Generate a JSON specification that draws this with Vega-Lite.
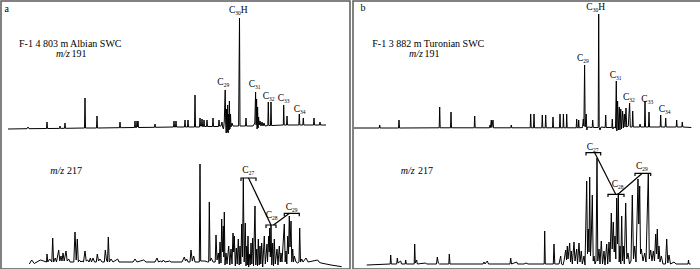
{
  "$schema": "https://vega.github.io/schema/vega-lite/v6.json",
  "padding": 0,
  "spacing": 0,
  "background": "white",
  "config": {"view": {"stroke": "#5a5a5a", "strokeWidth": 1.5}, "font": "Liberation Serif", "text": {"fill": "#000"}},
  "datasets": {
    "a191": [{"t":7,"i":0},{"t":26,"i":0.3},{"t":27,"i":2},{"t":28,"i":0.3},{"t":45.5,"i":0.5},{"t":46,"i":7},{"t":46.5,"i":0.5},{"t":58.5,"i":0.6},{"t":59,"i":3},{"t":59.5,"i":0.6},{"t":63.5,"i":0.7},{"t":64,"i":6},{"t":64.5,"i":0.7},{"t":83.5,"i":1},{"t":84,"i":31},{"t":84.5,"i":1},{"t":95.5,"i":1},{"t":96,"i":13},{"t":96.5,"i":1},{"t":118.5,"i":1.3},{"t":119,"i":7},{"t":119.5,"i":1.3},{"t":133.5,"i":1.5},{"t":134,"i":8},{"t":134.5,"i":1.5},{"t":135.5,"i":1.5},{"t":136,"i":8},{"t":136.5,"i":2},{"t":137,"i":8},{"t":137.5,"i":1.5},{"t":153.5,"i":1.7},{"t":154,"i":5},{"t":154.5,"i":1.7},{"t":172.5,"i":2},{"t":173,"i":8},{"t":173.5,"i":2},{"t":174.5,"i":2},{"t":175,"i":8},{"t":175.5,"i":2},{"t":183.5,"i":2},{"t":184,"i":9},{"t":184.5,"i":2},{"t":186.5,"i":2},{"t":187,"i":9},{"t":187.5,"i":2},{"t":193.5,"i":2},{"t":194,"i":34},{"t":194.5,"i":2},{"t":198.5,"i":2},{"t":199,"i":11},{"t":199.5,"i":3},{"t":200.5,"i":3},{"t":201,"i":10},{"t":201.5,"i":2.5},{"t":202.5,"i":2.5},{"t":203,"i":9},{"t":203.5,"i":2.5},{"t":205.5,"i":2.5},{"t":206,"i":9},{"t":206.5,"i":2.5},{"t":211.5,"i":2.5},{"t":212,"i":11},{"t":212.5,"i":2.5},{"t":217.5,"i":2.5},{"t":218,"i":9},{"t":218.5,"i":3},{"t":220,"i":3},{"t":221,"i":7},{"t":221.6,"i":2},{"t":222.5,"i":0},{"t":223.3,"i":8},{"t":224.2,"i":39},{"t":224.7,"i":6},{"t":225.2,"i":-4},{"t":225.7,"i":20},{"t":226.2,"i":-3},{"t":226.7,"i":24},{"t":227.2,"i":-4},{"t":227.7,"i":15},{"t":228.1,"i":-1},{"t":228.4,"i":28},{"t":228.9,"i":0},{"t":229.5,"i":15},{"t":230,"i":2},{"t":231,"i":6},{"t":232,"i":3},{"t":237.6,"i":3},{"t":238.5,"i":111},{"t":239,"i":3},{"t":244.5,"i":3},{"t":245,"i":11},{"t":245.5,"i":3},{"t":252,"i":3},{"t":253.8,"i":6},{"t":254.6,"i":37},{"t":255.1,"i":4},{"t":255.6,"i":30},{"t":256.1,"i":0},{"t":256.6,"i":22},{"t":257.1,"i":1},{"t":257.6,"i":12},{"t":258.2,"i":4},{"t":259,"i":8},{"t":260,"i":3},{"t":261,"i":7},{"t":262,"i":3},{"t":263,"i":6},{"t":264,"i":3},{"t":266.8,"i":3.5},{"t":267.3,"i":27},{"t":267.8,"i":3.5},{"t":269.5,"i":3.5},{"t":270,"i":27},{"t":270.5,"i":3.5},{"t":282.3,"i":4},{"t":282.7,"i":24},{"t":283.2,"i":4},{"t":285.5,"i":4},{"t":286,"i":13},{"t":286.5,"i":4},{"t":297.8,"i":4},{"t":298.3,"i":15},{"t":298.8,"i":4},{"t":301.8,"i":4},{"t":302.3,"i":11},{"t":302.8,"i":4},{"t":312.5,"i":4},{"t":313,"i":11},{"t":313.5,"i":4},{"t":318.5,"i":4},{"t":319,"i":7},{"t":319.5,"i":4},{"t":325,"i":4}],
    "a217": [{"t":28.3,"i":-2},{"t":30.7,"i":2},{"t":33.3,"i":-1.5},{"t":39.3,"i":2},{"t":42.7,"i":1},{"t":45.5,"i":0},{"t":46,"i":8},{"t":46.8,"i":0},{"t":48.7,"i":3},{"t":50.8,"i":0},{"t":51.7,"i":24},{"t":52.6,"i":0},{"t":54.3,"i":4},{"t":55.5,"i":0},{"t":57.7,"i":12},{"t":58.8,"i":1},{"t":60,"i":6},{"t":61,"i":1},{"t":62,"i":9},{"t":63.2,"i":1},{"t":65,"i":11},{"t":66.2,"i":1},{"t":67.7,"i":3},{"t":69,"i":0},{"t":72.8,"i":0},{"t":74,"i":30},{"t":75.2,"i":2},{"t":76.3,"i":23},{"t":77.3,"i":0},{"t":78.3,"i":2},{"t":80,"i":0},{"t":81,"i":1},{"t":82.5,"i":0},{"t":84,"i":11},{"t":85.2,"i":1},{"t":86.7,"i":2},{"t":88,"i":0},{"t":89.3,"i":4},{"t":90.5,"i":0},{"t":92,"i":4},{"t":93.5,"i":0},{"t":95.3,"i":0},{"t":96.3,"i":8},{"t":97.5,"i":1},{"t":99,"i":3},{"t":101,"i":0},{"t":103.3,"i":0},{"t":104.3,"i":12},{"t":105.5,"i":2},{"t":106.5,"i":0},{"t":107.3,"i":25},{"t":108.3,"i":0},{"t":110,"i":3},{"t":112,"i":0},{"t":116.7,"i":3},{"t":118,"i":0},{"t":132,"i":0},{"t":134,"i":3},{"t":136,"i":0},{"t":142.7,"i":2},{"t":145,"i":0},{"t":154,"i":0},{"t":156,"i":4},{"t":157.5,"i":0},{"t":159.3,"i":1},{"t":161,"i":0},{"t":162.3,"i":2},{"t":164,"i":0},{"t":168.7,"i":1},{"t":170,"i":0},{"t":181,"i":0},{"t":183.3,"i":5},{"t":184.5,"i":1},{"t":185.7,"i":3},{"t":187,"i":0},{"t":189,"i":0},{"t":190,"i":12},{"t":191.3,"i":1},{"t":192.7,"i":6},{"t":194,"i":0},{"t":198.3,"i":0},{"t":199,"i":98},{"t":199.7,"i":1},{"t":204,"i":1},{"t":206.5,"i":0},{"t":207.7,"i":0},{"t":208.3,"i":60},{"t":209.1,"i":1},{"t":210.3,"i":4},{"t":212,"i":0},{"t":214.2,"i":0},{"t":215,"i":27},{"t":216,"i":2},{"t":217.3,"i":9},{"t":218.2,"i":-2},{"t":219,"i":20},{"t":220,"i":-1},{"t":220.7,"i":43},{"t":221.5,"i":10},{"t":222.3,"i":36},{"t":222.8,"i":5},{"t":223.3,"i":50},{"t":224,"i":-3},{"t":225,"i":9},{"t":226,"i":-2},{"t":227.7,"i":16},{"t":228.8,"i":-3},{"t":230,"i":13},{"t":231,"i":-2},{"t":232,"i":29},{"t":232.7,"i":10},{"t":233.3,"i":26},{"t":234.3,"i":-4},{"t":235.3,"i":14},{"t":236.2,"i":-2},{"t":237.3,"i":23},{"t":238.2,"i":-3},{"t":239,"i":16},{"t":239.8,"i":-2},{"t":240.7,"i":38},{"t":241.5,"i":5},{"t":242.3,"i":84},{"t":243.2,"i":0},{"t":244.3,"i":39},{"t":245,"i":-4},{"t":245.7,"i":16},{"t":246.3,"i":-3},{"t":247,"i":26},{"t":247.7,"i":-5},{"t":248.3,"i":8},{"t":249.2,"i":-3},{"t":250,"i":19},{"t":250.8,"i":-2},{"t":251.7,"i":24},{"t":252.5,"i":-4},{"t":254,"i":56},{"t":254.8,"i":-3},{"t":255.7,"i":13},{"t":256.5,"i":-4},{"t":257.3,"i":23},{"t":258.2,"i":-3},{"t":259,"i":16},{"t":259.8,"i":-2},{"t":260.7,"i":19},{"t":261.7,"i":-5},{"t":263.3,"i":26},{"t":264.3,"i":-2},{"t":266,"i":18},{"t":266.5,"i":0},{"t":267.7,"i":26},{"t":268.2,"i":10},{"t":268.7,"i":34},{"t":269.3,"i":5},{"t":270,"i":37},{"t":270.8,"i":-3},{"t":271.7,"i":19},{"t":272.5,"i":-4},{"t":273.3,"i":23},{"t":274.3,"i":-2},{"t":276,"i":13},{"t":277,"i":-3},{"t":278.3,"i":16},{"t":279.3,"i":0},{"t":280,"i":9},{"t":281,"i":0},{"t":283.3,"i":38},{"t":284.2,"i":0},{"t":285,"i":11},{"t":285.8,"i":-2},{"t":286.7,"i":26},{"t":287.5,"i":8},{"t":288.3,"i":46},{"t":289,"i":15},{"t":290,"i":41},{"t":290.8,"i":0},{"t":291.7,"i":13},{"t":292.5,"i":0},{"t":293.3,"i":6},{"t":295,"i":0},{"t":296.7,"i":-1},{"t":298,"i":0},{"t":298.7,"i":34},{"t":299.5,"i":0},{"t":300.7,"i":3},{"t":302,"i":0},{"t":305,"i":4},{"t":307,"i":0},{"t":316.7,"i":2},{"t":318,"i":0},{"t":320,"i":-1},{"t":330,"i":-3},{"t":340.7,"i":-4.7}],
    "b191": [{"t":0,"i":1},{"t":25.2,"i":1},{"t":25.7,"i":4},{"t":26.2,"i":1},{"t":44.5,"i":1},{"t":45,"i":9},{"t":45.5,"i":1},{"t":85.2,"i":1.2},{"t":85.7,"i":22},{"t":86.2,"i":1.2},{"t":96.5,"i":1.2},{"t":97,"i":17},{"t":97.5,"i":1.2},{"t":120.2,"i":1.2},{"t":120.7,"i":13},{"t":121.2,"i":1.2},{"t":135.5,"i":1.2},{"t":136,"i":4},{"t":136.5,"i":1.5},{"t":137.3,"i":9},{"t":137.8,"i":1.5},{"t":139,"i":9},{"t":139.5,"i":1.2},{"t":156.8,"i":1.2},{"t":157.3,"i":4},{"t":157.8,"i":1.2},{"t":176.2,"i":1.2},{"t":176.7,"i":15},{"t":177.2,"i":1.2},{"t":179.5,"i":1.2},{"t":180,"i":15},{"t":180.5,"i":1.2},{"t":187.8,"i":1.2},{"t":188.3,"i":14},{"t":188.8,"i":1.2},{"t":191.2,"i":1.2},{"t":191.7,"i":14},{"t":192.2,"i":1.2},{"t":198.5,"i":1.2},{"t":199,"i":12},{"t":199.5,"i":1.2},{"t":205.5,"i":1.2},{"t":206,"i":15},{"t":206.5,"i":1.2},{"t":209,"i":1.2},{"t":209.4,"i":15},{"t":209.9,"i":1.2},{"t":212.3,"i":1.2},{"t":212.7,"i":15},{"t":213.2,"i":1.2},{"t":222.2,"i":1.2},{"t":222.7,"i":10},{"t":223.2,"i":1.2},{"t":224.3,"i":1.2},{"t":224.7,"i":9},{"t":225.2,"i":1.2},{"t":228.5,"i":1.5},{"t":229.3,"i":10},{"t":229.9,"i":3},{"t":230.6,"i":64},{"t":231.2,"i":2},{"t":232.2,"i":15},{"t":232.8,"i":-1},{"t":233.5,"i":2},{"t":238.2,"i":1.5},{"t":238.7,"i":9},{"t":239.3,"i":1.5},{"t":244.2,"i":1.5},{"t":244.7,"i":115},{"t":245.2,"i":1.5},{"t":246,"i":-1},{"t":247,"i":2},{"t":251.2,"i":1.5},{"t":251.7,"i":14},{"t":252.2,"i":1.5},{"t":257.8,"i":1.5},{"t":258.3,"i":10},{"t":258.8,"i":0},{"t":260,"i":2},{"t":261.5,"i":1},{"t":262.3,"i":48},{"t":262.8,"i":-2},{"t":263.6,"i":28},{"t":264.3,"i":-1},{"t":265.3,"i":22},{"t":265.9,"i":-1},{"t":266.8,"i":20},{"t":267.4,"i":0},{"t":268.6,"i":18},{"t":269.3,"i":1},{"t":270.3,"i":15},{"t":271,"i":2},{"t":272,"i":21},{"t":272.7,"i":2},{"t":274.3,"i":3},{"t":275.6,"i":26},{"t":276.3,"i":2},{"t":278.2,"i":2},{"t":278.7,"i":18},{"t":279.3,"i":2},{"t":285.5,"i":2},{"t":286,"i":5},{"t":286.7,"i":2},{"t":290.5,"i":2},{"t":291,"i":28},{"t":291.5,"i":2},{"t":294.5,"i":2},{"t":295,"i":17},{"t":295.5,"i":2},{"t":306.2,"i":2},{"t":306.7,"i":14},{"t":307.2,"i":2},{"t":311.2,"i":2},{"t":311.7,"i":11},{"t":312.2,"i":2},{"t":322.2,"i":2},{"t":322.7,"i":9},{"t":323.2,"i":2},{"t":327.8,"i":2},{"t":328.3,"i":7},{"t":328.8,"i":2},{"t":337.3,"i":1.5}],
    "b217": [{"t":12.7,"i":-1},{"t":36.2,"i":0},{"t":36.7,"i":9},{"t":37.3,"i":0},{"t":42.7,"i":0},{"t":43.3,"i":6},{"t":44,"i":1},{"t":46.7,"i":3},{"t":47.5,"i":0},{"t":51.2,"i":0},{"t":51.7,"i":4},{"t":52.3,"i":0},{"t":60.2,"i":0},{"t":60.7,"i":20},{"t":61.3,"i":1},{"t":62.7,"i":4},{"t":63.3,"i":0},{"t":71.7,"i":1},{"t":72.5,"i":0},{"t":82.5,"i":0},{"t":83.3,"i":7},{"t":84.3,"i":1},{"t":85.5,"i":0},{"t":94.8,"i":0},{"t":95.3,"i":10},{"t":96,"i":0},{"t":129,"i":0},{"t":130,"i":2},{"t":131,"i":0},{"t":133.3,"i":3},{"t":134.5,"i":0},{"t":156,"i":0},{"t":156.7,"i":6},{"t":157.5,"i":0},{"t":162.7,"i":2},{"t":163.5,"i":0},{"t":170,"i":0},{"t":172,"i":1},{"t":174,"i":0},{"t":190.2,"i":0},{"t":190.7,"i":33},{"t":191.3,"i":0},{"t":199.3,"i":0},{"t":200,"i":20},{"t":200.8,"i":0},{"t":205,"i":0},{"t":206.7,"i":8},{"t":207.5,"i":0},{"t":209,"i":-1},{"t":210,"i":3},{"t":211.7,"i":14},{"t":212.5,"i":4},{"t":213.3,"i":18},{"t":214,"i":5},{"t":215.7,"i":21},{"t":216.5,"i":2},{"t":217.3,"i":13},{"t":218.3,"i":0},{"t":220,"i":22},{"t":221,"i":3},{"t":222.7,"i":15},{"t":223.5,"i":0},{"t":225,"i":21},{"t":226,"i":2},{"t":227.3,"i":13},{"t":228.3,"i":0},{"t":230,"i":8},{"t":231,"i":-1},{"t":232.7,"i":83},{"t":233.5,"i":10},{"t":234.3,"i":35},{"t":235,"i":12},{"t":235.7,"i":87},{"t":236.5,"i":8},{"t":237.3,"i":28},{"t":238.3,"i":69},{"t":239.2,"i":3},{"t":240,"i":8},{"t":241,"i":0},{"t":242,"i":3},{"t":243,"i":106},{"t":243.8,"i":3},{"t":245,"i":15},{"t":246,"i":0},{"t":247.3,"i":23},{"t":248.5,"i":0},{"t":250,"i":13},{"t":251,"i":-1},{"t":252.7,"i":20},{"t":253.7,"i":0},{"t":255,"i":22},{"t":256,"i":2},{"t":257.3,"i":51},{"t":258.2,"i":15},{"t":259.3,"i":42},{"t":260.2,"i":12},{"t":261,"i":28},{"t":261.8,"i":5},{"t":262.7,"i":66},{"t":263.5,"i":20},{"t":264.3,"i":71},{"t":265.2,"i":2},{"t":266,"i":18},{"t":266.8,"i":0},{"t":267.7,"i":48},{"t":268.5,"i":3},{"t":269.3,"i":18},{"t":270.3,"i":0},{"t":271.7,"i":61},{"t":272.8,"i":5},{"t":274,"i":11},{"t":275.5,"i":0},{"t":277,"i":3},{"t":278.3,"i":69},{"t":279.5,"i":5},{"t":280.7,"i":18},{"t":282,"i":2},{"t":284,"i":85},{"t":284.8,"i":40},{"t":285.7,"i":78},{"t":286.5,"i":10},{"t":287.3,"i":15},{"t":289,"i":3},{"t":290.7,"i":11},{"t":292,"i":2},{"t":294.3,"i":91},{"t":295.3,"i":5},{"t":296.7,"i":14},{"t":298,"i":3},{"t":299.3,"i":13},{"t":300.5,"i":3},{"t":301.7,"i":30},{"t":302.5,"i":10},{"t":303.3,"i":35},{"t":304.2,"i":5},{"t":305,"i":18},{"t":306,"i":2},{"t":307.3,"i":8},{"t":309,"i":0},{"t":311.5,"i":0},{"t":312.7,"i":25},{"t":313.8,"i":1},{"t":315,"i":9},{"t":316.5,"i":0},{"t":320,"i":2},{"t":322,"i":0},{"t":334,"i":0},{"t":334.5,"i":4},{"t":335,"i":0},{"t":336.7,"i":0}],
    "peaks": [
      {"p":"a","s":"191","t":222.7,"i":47,"base":"C","sub":"29","post":""},
      {"p":"a","s":"191","t":234.3,"i":118.7,"base":"C","sub":"30","post":"H"},
      {"p":"a","s":"191","t":254,"i":44.7,"base":"C","sub":"31","post":""},
      {"p":"a","s":"191","t":268,"i":33,"base":"C","sub":"32","post":""},
      {"p":"a","s":"191","t":283,"i":30.7,"base":"C","sub":"33","post":""},
      {"p":"a","s":"191","t":299,"i":20,"base":"C","sub":"34","post":""},
      {"p":"b","s":"191","t":229.3,"i":70.7,"base":"C","sub":"29","post":""},
      {"p":"b","s":"191","t":238.7,"i":122,"base":"C","sub":"30","post":"H"},
      {"p":"b","s":"191","t":262,"i":54,"base":"C","sub":"31","post":""},
      {"p":"b","s":"191","t":275.3,"i":32,"base":"C","sub":"32","post":""},
      {"p":"b","s":"191","t":293.7,"i":29.7,"base":"C","sub":"33","post":""},
      {"p":"b","s":"191","t":311,"i":19.7,"base":"C","sub":"34","post":""},
      {"p":"a","s":"217","t":247.7,"i":91.7,"base":"C","sub":"27","post":""},
      {"p":"a","s":"217","t":271,"i":46.7,"base":"C","sub":"28","post":""},
      {"p":"a","s":"217","t":291,"i":55.3,"base":"C","sub":"29","post":""},
      {"p":"b","s":"217","t":239,"i":117,"base":"C","sub":"27","post":""},
      {"p":"b","s":"217","t":264,"i":79.7,"base":"C","sub":"28","post":""},
      {"p":"b","s":"217","t":288.3,"i":98,"base":"C","sub":"29","post":""}
    ],
    "brackets": [
      {"p":"a","g":"27","k":0,"t":240,"i":81},{"p":"a","g":"27","k":1,"t":240,"i":84},{"p":"a","g":"27","k":2,"t":255,"i":84},{"p":"a","g":"27","k":3,"t":255,"i":81},
      {"p":"a","g":"28","k":0,"t":265,"i":34},{"p":"a","g":"28","k":1,"t":265,"i":37},{"p":"a","g":"28","k":2,"t":275,"i":37},{"p":"a","g":"28","k":3,"t":275,"i":34},
      {"p":"a","g":"29","k":0,"t":283.3,"i":45.7},{"p":"a","g":"29","k":1,"t":283.3,"i":48.7},{"p":"a","g":"29","k":2,"t":298.3,"i":48.7},{"p":"a","g":"29","k":3,"t":298.3,"i":45.7},
      {"p":"a","g":"d1","k":0,"t":247.5,"i":84},{"p":"a","g":"d1","k":1,"t":270,"i":37},
      {"p":"a","g":"d2","k":0,"t":272.5,"i":37},{"p":"a","g":"d2","k":1,"t":288.5,"i":48.7},
      {"p":"b","g":"27","k":0,"t":232,"i":108.5},{"p":"b","g":"27","k":1,"t":232,"i":111.3},{"p":"b","g":"27","k":2,"t":246.7,"i":111.3},{"p":"b","g":"27","k":3,"t":246.7,"i":108.5},
      {"p":"b","g":"28","k":0,"t":254,"i":67},{"p":"b","g":"28","k":1,"t":254,"i":69.7},{"p":"b","g":"28","k":2,"t":270,"i":69.7},{"p":"b","g":"28","k":3,"t":270,"i":67},
      {"p":"b","g":"29","k":0,"t":281,"i":88},{"p":"b","g":"29","k":1,"t":281,"i":90.7},{"p":"b","g":"29","k":2,"t":296.7,"i":90.7},{"p":"b","g":"29","k":3,"t":296.7,"i":88},
      {"p":"b","g":"d1","k":0,"t":240.7,"i":111.3},{"p":"b","g":"d1","k":1,"t":261.7,"i":69.7},
      {"p":"b","g":"d2","k":0,"t":264,"i":69.7},{"p":"b","g":"d2","k":1,"t":288.3,"i":90.7}
    ],
    "notes": [
      {"p":"a","s":"191","t":3.5,"i":120,"txt":"a"},
      {"p":"a","s":"191","t":18,"i":85,"txt":"F-1 4 803 m Albian SWC"},
      {"p":"a","s":"191","t":70.5,"i":75,"txt":"191"},
      {"p":"a","s":"217","t":66,"i":91,"txt":"217"},
      {"p":"b","s":"191","t":6.5,"i":120.7,"txt":"b"},
      {"p":"b","s":"191","t":18.3,"i":85.3,"txt":"F-1 3 882 m Turonian  SWC"},
      {"p":"b","s":"191","t":70.5,"i":75.3,"txt":"191"},
      {"p":"b","s":"217","t":64,"i":93,"txt":"217"}
    ],
    "mz": [
      {"p":"a","s":"191","t":55,"i":75,"txt":"m/z"},
      {"p":"a","s":"217","t":49.3,"i":91,"txt":"m/z"},
      {"p":"b","s":"191","t":55,"i":75.3,"txt":"m/z"},
      {"p":"b","s":"217","t":46.7,"i":93,"txt":"m/z"}
    ]
  },
  "hconcat": [
    {
      "width": 349, "height": 268,
      "resolve": {"scale": {"y": "independent"}},
      "layer": [
        {
          "layer": [
            {"data": {"name": "a191"}, "mark": {"type": "line", "color": "#000", "strokeWidth": 1},
             "encoding": {"x": {"field": "t", "type": "quantitative", "scale": {"domain": [0, 349], "nice": false, "zero": false}, "axis": null},
                          "y": {"field": "i", "type": "quantitative", "scale": {"domain": [-140, 128], "nice": false, "zero": false}, "axis": null}}},
            {"data": {"name": "peaks"}, "transform": [{"filter": "datum.p=='a' && datum.s=='191'"}],
             "mark": {"type": "text", "align": "right", "baseline": "middle", "fontSize": 9.5, "fill": "#000"},
             "encoding": {"x": {"field": "t", "type": "quantitative", "scale": {"domain": [0, 349], "nice": false, "zero": false}, "axis": null},
                          "y": {"field": "i", "type": "quantitative", "scale": {"domain": [-140, 128], "nice": false, "zero": false}, "axis": null},
                          "text": {"field": "base"}}},
            {"data": {"name": "peaks"}, "transform": [{"filter": "datum.p=='a' && datum.s=='191'"}],
             "mark": {"type": "text", "align": "left", "baseline": "middle", "fontSize": 5.5, "dy": 2.8, "fill": "#000"},
             "encoding": {"x": {"field": "t", "type": "quantitative", "scale": {"domain": [0, 349], "nice": false, "zero": false}, "axis": null},
                          "y": {"field": "i", "type": "quantitative", "scale": {"domain": [-140, 128], "nice": false, "zero": false}, "axis": null},
                          "text": {"field": "sub"}}},
            {"data": {"name": "peaks"}, "transform": [{"filter": "datum.p=='a' && datum.s=='191'"}],
             "mark": {"type": "text", "align": "left", "baseline": "middle", "fontSize": 9.5, "dx": 5.5, "fill": "#000"},
             "encoding": {"x": {"field": "t", "type": "quantitative", "scale": {"domain": [0, 349], "nice": false, "zero": false}, "axis": null},
                          "y": {"field": "i", "type": "quantitative", "scale": {"domain": [-140, 128], "nice": false, "zero": false}, "axis": null},
                          "text": {"field": "post"}}},
            {"data": {"name": "notes"}, "transform": [{"filter": "datum.p=='a' && datum.s=='191'"}],
             "mark": {"type": "text", "align": "left", "baseline": "middle", "fontSize": 10, "fill": "#000"},
             "encoding": {"x": {"field": "t", "type": "quantitative", "scale": {"domain": [0, 349], "nice": false, "zero": false}, "axis": null},
                          "y": {"field": "i", "type": "quantitative", "scale": {"domain": [-140, 128], "nice": false, "zero": false}, "axis": null},
                          "text": {"field": "txt"}}},
            {"data": {"name": "mz"}, "transform": [{"filter": "datum.p=='a' && datum.s=='191'"}],
             "mark": {"type": "text", "align": "left", "baseline": "middle", "fontSize": 10, "fontStyle": "italic", "fill": "#000"},
             "encoding": {"x": {"field": "t", "type": "quantitative", "scale": {"domain": [0, 349], "nice": false, "zero": false}, "axis": null},
                          "y": {"field": "i", "type": "quantitative", "scale": {"domain": [-140, 128], "nice": false, "zero": false}, "axis": null},
                          "text": {"field": "txt"}}}
          ]
        },
        {
          "layer": [
            {"data": {"name": "a217"}, "mark": {"type": "line", "color": "#000", "strokeWidth": 1},
             "encoding": {"x": {"field": "t", "type": "quantitative", "scale": {"domain": [0, 349], "nice": false, "zero": false}, "axis": null},
                          "y": {"field": "i", "type": "quantitative", "scale": {"domain": [-7, 261], "nice": false, "zero": false}, "axis": null}}},
            {"data": {"name": "brackets"}, "transform": [{"filter": "datum.p=='a'"}], "mark": {"type": "line", "color": "#000", "strokeWidth": 1.2},
             "encoding": {"x": {"field": "t", "type": "quantitative", "scale": {"domain": [0, 349], "nice": false, "zero": false}, "axis": null},
                          "y": {"field": "i", "type": "quantitative", "scale": {"domain": [-7, 261], "nice": false, "zero": false}, "axis": null},
                          "detail": {"field": "g"}, "order": {"field": "k"}}},
            {"data": {"name": "peaks"}, "transform": [{"filter": "datum.p=='a' && datum.s=='217'"}],
             "mark": {"type": "text", "align": "right", "baseline": "middle", "fontSize": 9.5, "fill": "#000"},
             "encoding": {"x": {"field": "t", "type": "quantitative", "scale": {"domain": [0, 349], "nice": false, "zero": false}, "axis": null},
                          "y": {"field": "i", "type": "quantitative", "scale": {"domain": [-7, 261], "nice": false, "zero": false}, "axis": null},
                          "text": {"field": "base"}}},
            {"data": {"name": "peaks"}, "transform": [{"filter": "datum.p=='a' && datum.s=='217'"}],
             "mark": {"type": "text", "align": "left", "baseline": "middle", "fontSize": 5.5, "dy": 2.8, "fill": "#000"},
             "encoding": {"x": {"field": "t", "type": "quantitative", "scale": {"domain": [0, 349], "nice": false, "zero": false}, "axis": null},
                          "y": {"field": "i", "type": "quantitative", "scale": {"domain": [-7, 261], "nice": false, "zero": false}, "axis": null},
                          "text": {"field": "sub"}}},
            {"data": {"name": "notes"}, "transform": [{"filter": "datum.p=='a' && datum.s=='217'"}],
             "mark": {"type": "text", "align": "left", "baseline": "middle", "fontSize": 10, "fill": "#000"},
             "encoding": {"x": {"field": "t", "type": "quantitative", "scale": {"domain": [0, 349], "nice": false, "zero": false}, "axis": null},
                          "y": {"field": "i", "type": "quantitative", "scale": {"domain": [-7, 261], "nice": false, "zero": false}, "axis": null},
                          "text": {"field": "txt"}}},
            {"data": {"name": "mz"}, "transform": [{"filter": "datum.p=='a' && datum.s=='217'"}],
             "mark": {"type": "text", "align": "left", "baseline": "middle", "fontSize": 10, "fontStyle": "italic", "fill": "#000"},
             "encoding": {"x": {"field": "t", "type": "quantitative", "scale": {"domain": [0, 349], "nice": false, "zero": false}, "axis": null},
                          "y": {"field": "i", "type": "quantitative", "scale": {"domain": [-7, 261], "nice": false, "zero": false}, "axis": null},
                          "text": {"field": "txt"}}}
          ]
        }
      ]
    },
    {
      "width": 350, "height": 268,
      "resolve": {"scale": {"y": "independent"}},
      "layer": [
        {
          "layer": [
            {"data": {"name": "b191"}, "mark": {"type": "line", "color": "#000", "strokeWidth": 1},
             "encoding": {"x": {"field": "t", "type": "quantitative", "scale": {"domain": [-1, 349], "nice": false, "zero": false}, "axis": null},
                          "y": {"field": "i", "type": "quantitative", "scale": {"domain": [-140, 128], "nice": false, "zero": false}, "axis": null}}},
            {"data": {"name": "peaks"}, "transform": [{"filter": "datum.p=='b' && datum.s=='191'"}],
             "mark": {"type": "text", "align": "right", "baseline": "middle", "fontSize": 9.5, "fill": "#000"},
             "encoding": {"x": {"field": "t", "type": "quantitative", "scale": {"domain": [-1, 349], "nice": false, "zero": false}, "axis": null},
                          "y": {"field": "i", "type": "quantitative", "scale": {"domain": [-140, 128], "nice": false, "zero": false}, "axis": null},
                          "text": {"field": "base"}}},
            {"data": {"name": "peaks"}, "transform": [{"filter": "datum.p=='b' && datum.s=='191'"}],
             "mark": {"type": "text", "align": "left", "baseline": "middle", "fontSize": 5.5, "dy": 2.8, "fill": "#000"},
             "encoding": {"x": {"field": "t", "type": "quantitative", "scale": {"domain": [-1, 349], "nice": false, "zero": false}, "axis": null},
                          "y": {"field": "i", "type": "quantitative", "scale": {"domain": [-140, 128], "nice": false, "zero": false}, "axis": null},
                          "text": {"field": "sub"}}},
            {"data": {"name": "peaks"}, "transform": [{"filter": "datum.p=='b' && datum.s=='191'"}],
             "mark": {"type": "text", "align": "left", "baseline": "middle", "fontSize": 9.5, "dx": 5.5, "fill": "#000"},
             "encoding": {"x": {"field": "t", "type": "quantitative", "scale": {"domain": [-1, 349], "nice": false, "zero": false}, "axis": null},
                          "y": {"field": "i", "type": "quantitative", "scale": {"domain": [-140, 128], "nice": false, "zero": false}, "axis": null},
                          "text": {"field": "post"}}},
            {"data": {"name": "notes"}, "transform": [{"filter": "datum.p=='b' && datum.s=='191'"}],
             "mark": {"type": "text", "align": "left", "baseline": "middle", "fontSize": 10, "fill": "#000"},
             "encoding": {"x": {"field": "t", "type": "quantitative", "scale": {"domain": [-1, 349], "nice": false, "zero": false}, "axis": null},
                          "y": {"field": "i", "type": "quantitative", "scale": {"domain": [-140, 128], "nice": false, "zero": false}, "axis": null},
                          "text": {"field": "txt"}}},
            {"data": {"name": "mz"}, "transform": [{"filter": "datum.p=='b' && datum.s=='191'"}],
             "mark": {"type": "text", "align": "left", "baseline": "middle", "fontSize": 10, "fontStyle": "italic", "fill": "#000"},
             "encoding": {"x": {"field": "t", "type": "quantitative", "scale": {"domain": [-1, 349], "nice": false, "zero": false}, "axis": null},
                          "y": {"field": "i", "type": "quantitative", "scale": {"domain": [-140, 128], "nice": false, "zero": false}, "axis": null},
                          "text": {"field": "txt"}}}
          ]
        },
        {
          "layer": [
            {"data": {"name": "b217"}, "mark": {"type": "line", "color": "#000", "strokeWidth": 1},
             "encoding": {"x": {"field": "t", "type": "quantitative", "scale": {"domain": [-1, 349], "nice": false, "zero": false}, "axis": null},
                          "y": {"field": "i", "type": "quantitative", "scale": {"domain": [-5, 263], "nice": false, "zero": false}, "axis": null}}},
            {"data": {"name": "brackets"}, "transform": [{"filter": "datum.p=='b'"}], "mark": {"type": "line", "color": "#000", "strokeWidth": 1.2},
             "encoding": {"x": {"field": "t", "type": "quantitative", "scale": {"domain": [-1, 349], "nice": false, "zero": false}, "axis": null},
                          "y": {"field": "i", "type": "quantitative", "scale": {"domain": [-5, 263], "nice": false, "zero": false}, "axis": null},
                          "detail": {"field": "g"}, "order": {"field": "k"}}},
            {"data": {"name": "peaks"}, "transform": [{"filter": "datum.p=='b' && datum.s=='217'"}],
             "mark": {"type": "text", "align": "right", "baseline": "middle", "fontSize": 9.5, "fill": "#000"},
             "encoding": {"x": {"field": "t", "type": "quantitative", "scale": {"domain": [-1, 349], "nice": false, "zero": false}, "axis": null},
                          "y": {"field": "i", "type": "quantitative", "scale": {"domain": [-5, 263], "nice": false, "zero": false}, "axis": null},
                          "text": {"field": "base"}}},
            {"data": {"name": "peaks"}, "transform": [{"filter": "datum.p=='b' && datum.s=='217'"}],
             "mark": {"type": "text", "align": "left", "baseline": "middle", "fontSize": 5.5, "dy": 2.8, "fill": "#000"},
             "encoding": {"x": {"field": "t", "type": "quantitative", "scale": {"domain": [-1, 349], "nice": false, "zero": false}, "axis": null},
                          "y": {"field": "i", "type": "quantitative", "scale": {"domain": [-5, 263], "nice": false, "zero": false}, "axis": null},
                          "text": {"field": "sub"}}},
            {"data": {"name": "notes"}, "transform": [{"filter": "datum.p=='b' && datum.s=='217'"}],
             "mark": {"type": "text", "align": "left", "baseline": "middle", "fontSize": 10, "fill": "#000"},
             "encoding": {"x": {"field": "t", "type": "quantitative", "scale": {"domain": [-1, 349], "nice": false, "zero": false}, "axis": null},
                          "y": {"field": "i", "type": "quantitative", "scale": {"domain": [-5, 263], "nice": false, "zero": false}, "axis": null},
                          "text": {"field": "txt"}}},
            {"data": {"name": "mz"}, "transform": [{"filter": "datum.p=='b' && datum.s=='217'"}],
             "mark": {"type": "text", "align": "left", "baseline": "middle", "fontSize": 10, "fontStyle": "italic", "fill": "#000"},
             "encoding": {"x": {"field": "t", "type": "quantitative", "scale": {"domain": [-1, 349], "nice": false, "zero": false}, "axis": null},
                          "y": {"field": "i", "type": "quantitative", "scale": {"domain": [-5, 263], "nice": false, "zero": false}, "axis": null},
                          "text": {"field": "txt"}}}
          ]
        }
      ]
    }
  ]
}
